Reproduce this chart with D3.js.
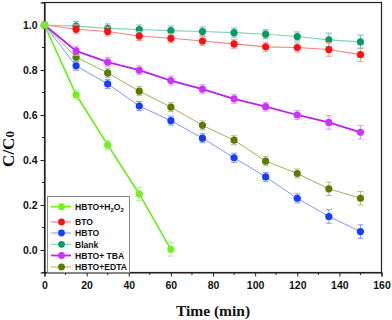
<!DOCTYPE html>
<html><head><meta charset="utf-8">
<script src="https://cdn.jsdelivr.net/npm/d3@7"></script>
<style>body{margin:0;background:#fff}svg{display:block}</style>
</head><body>
<svg id="c" width="392" height="320"></svg>
<script>
const timeFull = [0,15,30,45,60,75,90,105,120,135,150];
const timeH2O2 = [0,15,30,45,60];
const h2o2 = [1.0,0.69,0.467,0.249,0.003];
const bto = [1.0,0.981,0.971,0.951,0.941,0.929,0.916,0.903,0.900,0.891,0.868];
const hbto = [1.0,0.819,0.738,0.640,0.575,0.497,0.410,0.325,0.230,0.149,0.082];
const blank = [1.0,0.995,0.985,0.980,0.975,0.971,0.966,0.959,0.949,0.934,0.925];
const tba = [1.0,0.885,0.835,0.799,0.753,0.715,0.672,0.637,0.600,0.567,0.523];
const edta = [1.0,0.857,0.787,0.706,0.635,0.554,0.488,0.395,0.340,0.272,0.230];
const errH2O2 = [0.01,0.02,0.02,0.03,0.03];
const errBto = [0.01,0.02,0.02,0.02,0.02,0.02,0.02,0.02,0.02,0.03,0.03];
const errHbto = [0.01,0.02,0.02,0.02,0.02,0.02,0.02,0.02,0.02,0.03,0.03];
const errBlank = [0.01,0.02,0.02,0.02,0.02,0.02,0.02,0.02,0.02,0.03,0.03];
const errTba = [0.01,0.02,0.02,0.02,0.02,0.02,0.02,0.02,0.02,0.03,0.03];
const errEdta = [0.01,0.02,0.02,0.02,0.02,0.02,0.02,0.02,0.02,0.03,0.03];
const xTicks = [0,20,40,60,80,100,120,140,160];
const yTicks = [0.0,0.2,0.4,0.6,0.8,1.0];

const series = [
  {name:"HBTO+H2O2", t:timeH2O2, v:h2o2, e:errH2O2, mk:"#77ee22", ln:"#66ee11", eb:"#aaf088", lw:1.6},
  {name:"BTO", t:timeFull, v:bto, e:errBto, mk:"#ff1111", ln:"#ff8080", eb:"#ff9999", lw:1.2},
  {name:"HBTO", t:timeFull, v:hbto, e:errHbto, mk:"#1a3cff", ln:"#7c98ff", eb:"#8899ff", lw:1.0},
  {name:"Blank", t:timeFull, v:blank, e:errBlank, mk:"#0a9966", ln:"#80d4b0", eb:"#66c7a0", lw:1.2},
  {name:"HBTO+ TBA", t:timeFull, v:tba, e:errTba, mk:"#cc33ff", ln:"#bb22ee", eb:"#e099ff", lw:1.8},
  {name:"HBTO+EDTA", t:timeFull, v:edta, e:errEdta, mk:"#5a7a00", ln:"#a0b060", eb:"#b0c080", lw:1.0}
];
const drawOrder = [3,1,5,2,4,0];

const svg = d3.select("#c");
const L=44.5, R=381.5, T=2.5, B=272.5;
const x = d3.scaleLinear().domain([0,160]).range([L,R]);
const y = d3.scaleLinear().domain([-0.1,1.1]).range([B,T]);

svg.append("rect").attr("x",L).attr("y",T).attr("width",R-L).attr("height",B-T)
  .attr("fill","none").attr("stroke","#222").attr("stroke-width",1.2);

const xAxis = d3.axisBottom(x).tickValues(xTicks).tickFormat(d3.format("d")).tickSize(4).tickPadding(5);
const gx = svg.append("g").attr("transform",`translate(0,${B})`).call(xAxis);
const xMinor = d3.range(10,160,20);
gx.selectAll(".minor").data(xMinor).enter().append("line").attr("class","minor")
  .attr("x1",d=>x(d)).attr("x2",d=>x(d)).attr("y1",0).attr("y2",2.5).attr("stroke","#222");
const yAxis = d3.axisLeft(y).tickValues(yTicks).tickFormat(d3.format(".1f")).tickSize(4).tickPadding(3);
const gy = svg.append("g").attr("transform",`translate(${L},0)`).call(yAxis);
const yMinor = [-0.1,0.1,0.3,0.5,0.7,0.9,1.1];
gy.selectAll(".minor").data(yMinor).enter().append("line").attr("class","minor")
  .attr("y1",d=>y(d)).attr("y2",d=>y(d)).attr("x1",0).attr("x2",-2.5).attr("stroke","#222");
[gx,gy].forEach(g=>{
  g.select(".domain").attr("stroke","#222").attr("stroke-width",1.2);
  g.selectAll(".tick line").attr("stroke","#222");
  g.selectAll("text").attr("font-family","'Liberation Sans',Arial,sans-serif")
    .attr("font-weight","bold").attr("font-size","10.5px").attr("fill","#111");
});

const line = d3.line();
drawOrder.forEach(i=>{
  const s = series[i];
  const pts = s.t.map((t,j)=>[x(t),y(s.v[j])]);
  const g = svg.append("g");
  g.append("path").attr("d",line(pts)).attr("fill","none").attr("stroke",s.ln).attr("stroke-width",s.lw);
  s.t.forEach((t,j)=>{
    const cx=x(t), y1=y(s.v[j]+s.e[j]), y2=y(s.v[j]-s.e[j]);
    g.append("line").attr("x1",cx).attr("x2",cx).attr("y1",y1).attr("y2",y2).attr("stroke",s.eb).attr("stroke-width",1);
    [y1,y2].forEach(yy=>g.append("line").attr("x1",cx-3).attr("x2",cx+3).attr("y1",yy).attr("y2",yy).attr("stroke",s.eb).attr("stroke-width",1));
  });
  g.selectAll("circle").data(s.t).enter().append("circle")
    .attr("cx",d=>x(d)).attr("cy",(d,j)=>y(s.v[j])).attr("r",3.6).attr("fill",s.mk);
});

svg.append("text").attr("x",213).attr("y",316).attr("text-anchor","middle")
  .attr("font-family","'Liberation Serif','Times New Roman',serif").attr("font-weight","bold")
  .attr("font-size","15.5px").attr("fill","#111").text("Time (min)");
const yl = svg.append("text").attr("transform","translate(13.5,149) rotate(-90)").attr("text-anchor","middle")
  .attr("font-family","'Liberation Serif','Times New Roman',serif").attr("font-weight","bold")
  .attr("font-size","17px").attr("fill","#111");
yl.append("tspan").text("C/C");
yl.append("tspan").attr("font-size","13px").text("0");

const lg = svg.append("g");
lg.append("rect").attr("x",47.5).attr("y",196.5).attr("width",82).attr("height",76)
  .attr("fill","#fff").attr("stroke","#888").attr("stroke-width",1);
const legY = [206.7,222,233,244.3,255.5,267];
series.forEach((s,i)=>{
  const yy = legY[i];
  lg.append("line").attr("x1",51).attr("x2",71).attr("y1",yy).attr("y2",yy).attr("stroke",s.ln).attr("stroke-width",s.lw);
  lg.append("circle").attr("cx",61.5).attr("cy",yy).attr("r",3.4).attr("fill",s.mk);
  const t = lg.append("text").attr("x",75).attr("y",yy+3.2)
    .attr("font-family","'Liberation Sans',Arial,sans-serif").attr("font-weight","bold")
    .attr("font-size","8.6px").attr("fill","#111");
  if(i===0){
    t.append("tspan").text("HBTO+H");
    t.append("tspan").attr("font-size","6px").attr("dy",2.2).text("2");
    t.append("tspan").attr("dy",-2.2).text("O");
    t.append("tspan").attr("font-size","6px").attr("dy",2.2).text("2");
  } else t.text(s.name);
});
</script>
</body></html>
